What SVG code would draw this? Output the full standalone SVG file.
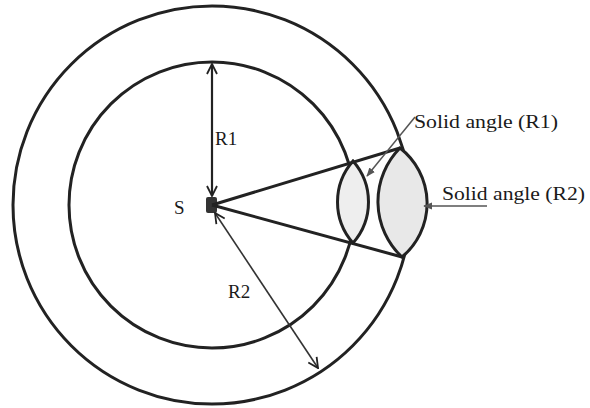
<svg xmlns="http://www.w3.org/2000/svg" width="590" height="408" viewBox="0 0 590 408">
<defs>
<style>
.circ{fill:none;stroke:#222;stroke-width:3}
.cone{stroke:#222;stroke-width:3;fill:none}
.lens{stroke:#222;stroke-width:3}
.dim{stroke:#222;stroke-width:2.2;fill:none}
.diag{stroke:#333;stroke-width:1.6;fill:none}
.lead{stroke:#555;stroke-width:1.5;fill:none}
.t{font-family:"Liberation Serif","Times New Roman",serif;fill:#1a1a1a}
</style>
<marker id="open" viewBox="0 0 12 12" refX="11" refY="6" markerWidth="12" markerHeight="12" markerUnits="userSpaceOnUse" orient="auto-start-reverse">
<path d="M1,1 L11,6 L1,11" fill="none" stroke="#222" stroke-width="1.8"/>
</marker>
<marker id="lh" viewBox="0 0 10 10" refX="9" refY="5" markerWidth="9" markerHeight="9" markerUnits="userSpaceOnUse" orient="auto">
<path d="M0,1 L10,5 L0,9 Z" fill="#555"/>
</marker>
</defs>
<g id="outer-sphere"><circle class="circ" cx="212" cy="205" r="199"/></g>
<g id="inner-sphere"><circle class="circ" cx="212" cy="205" r="143"/></g>
<g id="lens-r2"><path class="lens" fill="#e8e8e8" d="M400,148 A76,76 0 0 0 402,257 A70,70 0 0 0 400,148 Z"/></g>
<g id="lens-r1"><path class="lens" fill="#eeeeee" d="M353,161 A62,62 0 0 0 353,243 A62,62 0 0 0 353,161 Z"/></g>
<g id="source"><rect x="206" y="197" width="11" height="16" rx="2" fill="#333"/><text class="t" x="174" y="214" font-size="19">S</text></g>
<g id="connectors">
<line class="cone" x1="212" y1="205" x2="400" y2="148"/>
<line class="cone" x1="212" y1="205" x2="402" y2="257"/>
<line class="dim" x1="212" y1="196" x2="212" y2="64" marker-start="url(#open)" marker-end="url(#open)"/>
<line class="diag" x1="215" y1="213" x2="318" y2="368" marker-start="url(#open)" marker-end="url(#open)"/>
<line class="lead" x1="415" y1="117" x2="367" y2="176" marker-end="url(#lh)"/>
<line class="lead" x1="487" y1="206" x2="424" y2="206" marker-end="url(#lh)"/>
</g>
<g id="labels">
<text class="t" x="215" y="145" font-size="19">R1</text>
<text class="t" x="228" y="298" font-size="19">R2</text>
<text class="t" x="414" y="128" font-size="19" textLength="144" lengthAdjust="spacingAndGlyphs">Solid angle (R1)</text>
<text class="t" x="442" y="200" font-size="19" textLength="143" lengthAdjust="spacingAndGlyphs">Solid angle (R2)</text>
</g>
</svg>
